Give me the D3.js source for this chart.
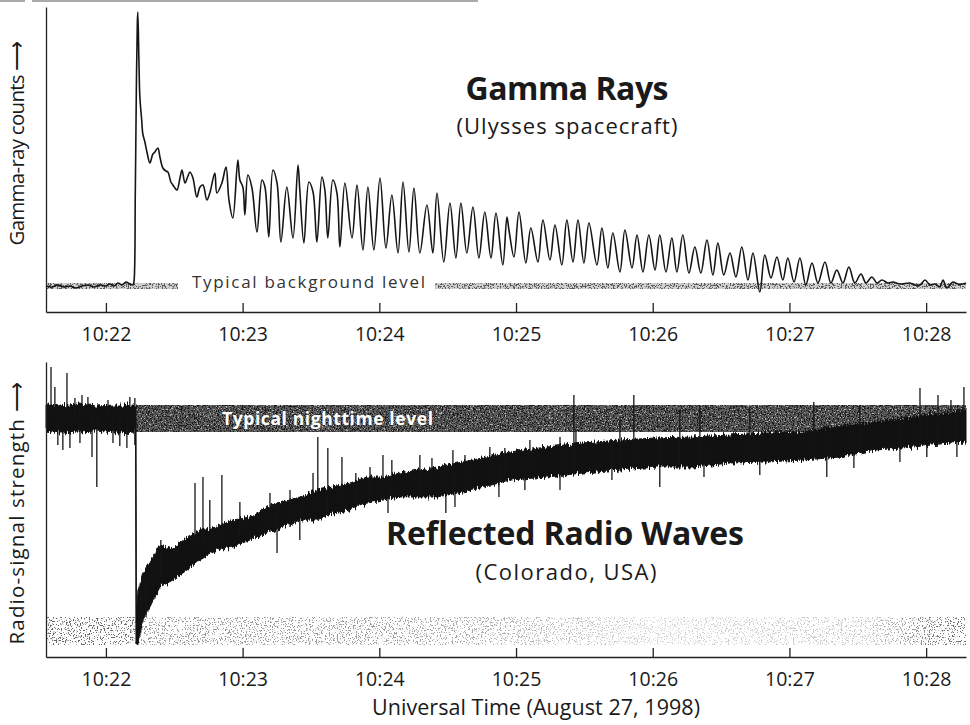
<!DOCTYPE html>
<html>
<head>
<meta charset="utf-8">
<script src="https://cdn.jsdelivr.net/npm/d3@7.9.0/dist/d3.min.js"></script>
<style>
  body { margin: 0; background: #fff; }
  svg { display: block; font-family: 'Open Sans', 'Noto Sans', sans-serif; }
  .axis path, .axis line { stroke: #222; stroke-width: 1.3; }
  .axis text { font-size: 19.5px; fill: #1a1a1a; font-family: 'Open Sans', sans-serif; }
</style>
</head>
<body>
<svg id="chart" width="970" height="725"></svg>
<script>
// time = seconds after 10:22:00 UT, values in arbitrary count units

// Ulysses gamma-ray counts [sec, counts]
const gammaRay = [
  [-26.3,26],[-23.7,25],[-21.1,27],[-18.4,25],[-15.8,26],[-13.2,24],[-10.5,26],[-7.9,27],[-5.3,25],[-2.6,27],
  [0,26],[1.8,28],[3.5,26],[5.3,29],[7.0,27],[8.8,30],[10.5,28],[11.9,27],[12.3,30],[12.9,120],
  [13.4,232],[13.8,290],[14.0,300],[14.5,250],[14.9,215],[15.7,192],[16.2,178],[17.1,170],[18.0,160],[19.3,149],
  [20.6,158],[21.5,160],[22.8,164],[23.7,155],[25.0,144],[26.3,141],[27.2,140],[28.5,130],[29.4,127],[30.3,124],
  [31.2,122],[32.5,134],[33.4,142],[34.7,129],[36.0,136],[36.9,140],[38.2,134],[39.9,115],[41.3,125],[42.6,127],
  [44.3,112],[45.6,119],[47.8,139],[48.7,119],[50.9,129],[52.7,145],[54.0,112],[55.7,94],[57.9,152],[58.8,132],
  [60.1,125],[61.0,97],[62.3,137],[64.1,124],[66.3,80],[68.5,132],[69.8,125],[71.5,75],[73.3,142],[75.1,129],
  [76.8,70],[79.4,125],[82.1,74],[84.3,147],[85.1,122],[86.9,69],[89.1,130],[90.9,120],[92.6,70],[94.8,135],
  [96.1,122],[97.4,74],[99.6,132],[101.4,119],[102.7,65],[104.9,129],[108.0,74],[110.2,127],[112.8,62],[115.0,125],
  [117.6,62],[120.3,134],[122.9,64],[125.5,117],[128.2,59],[130.4,130],[133.0,60],[135.2,124],[137.8,59],[140.9,107],
  [143.5,59],[145.3,119],[148.3,50],[151.0,109],[153.6,54],[155.8,109],[158.4,59],[161.1,105],[163.7,54],[166.3,100],
  [169.0,54],[171.2,99],[174.2,47],[176.0,95],[176.9,82],[179.1,55],[181.3,100],[184.3,49],[186.5,84],[189.6,50],
  [191.8,92],[194.9,52],[197.1,87],[200.1,47],[202.3,92],[205.0,50],[207.2,92],[209.8,49],[212.0,89],[215.5,47],
  [217.7,84],[220.3,44],[222.5,79],[225.6,40],[227.8,82],[230.9,44],[233.1,77],[235.7,40],[238.3,77],[241.0,42],
  [243.1,77],[245.8,40],[248.4,74],[250.6,40],[253.2,77],[255.9,39],[258.5,65],[261.1,39],[263.8,72],[266.4,37],
  [268.6,69],[271.2,37],[273.9,59],[276.5,35],[279.1,65],[281.8,32],[284.0,59],[287.0,20],[289.2,57],[291.9,34],
  [294.5,55],[297.1,32],[299.3,54],[302.0,30],[304.6,54],[307.2,27],[309.9,49],[312.5,29],[315.6,50],[318.2,29],
  [320.8,42],[323.5,29],[326.1,45],[328.7,29],[331.4,38],[333.6,29],[336.2,35],[338.4,29],[340.6,32],[343.2,29],
  [345.4,30],[348.5,28],[352.9,29],[355.1,27],[357.3,27],[359.5,32],[361.7,27],[363.9,28],[366.0,25],[367.4,32],
  [369.1,24],[371.7,30],[373.9,28],[376.1,28],[377.5,29]
];

// Colorado radio signal, dense band [sec, upper, lower]
const radioBand = [
  [-26.3,252,226],[-20,251,224],[-12,253,225],[-4,251,226],[4,252,224],[13.0,252,225],[13.2,252,12],[13.4,30,12],
  [13.6,50,12],[14.0,64,14],[16.2,84,37],[19.3,94,50],[23.7,112,70],[29.4,108,77],[35.6,120,87],[41.3,127,97],
  [48.7,130,107],[55.7,137,110],[63.2,140,117],[70.7,150,124],[77.7,155,130],[85.1,160,137],[92.6,167,137],
  [99.6,170,144],[107.1,174,147],[114.6,180,154],[121.6,180,157],[129.0,184,160],[145.3,190,160],[161.1,197,167],
  [177.3,205,177],[193.6,210,180],[209.4,214,184],[225.6,217,187],[241.4,219,190],[257.6,220,190],[273.9,222,194],
  [289.7,224,195],[305.9,225,197],[322.2,230,200],[337.9,235,207],[354.2,240,210],[370.0,244,214],[377.5,247,215]
];

// isolated radio spikes [sec, top, bottom]
const radioSpikes = [
  [-24.1,290,240],[-22.4,270,240],[-21.1,245,212],[-18.9,245,207],[-17.1,284,240],[-15.8,245,209],[-13.6,259,240],
  [-11.4,245,214],[-10.5,262,240],[-7.9,260,240],[-6.1,245,200],[-4.0,245,170],[0.9,257,240],[3.1,245,214],
  [6.1,245,211],[9.2,245,209],[10.5,260,240],[12.7,259,212],
  [15.4,72,30],[17.6,80,40],[21.0,103,60],[24.1,117,80],[39.1,174,110],[42.6,180,110],[45.6,157,110],[50.9,182,115],
  [58.8,155,120],[72.0,164,125],[75.1,145,104],[80.8,167,130],[85.1,150,117],[90.9,184,145],[93.0,220,145],
  [97.4,209,145],[103.6,200,150],[109.7,184,150],[115.9,190,155],[121.6,202,158],[123.8,175,144],[125.5,197,160],
  [137.8,202,160],[143.1,199,160],[149.2,185,144],[152.3,207,165],[153.2,185,150],[157.6,202,165],[168.5,210,170],
  [172.5,195,160],[175.1,209,175],[183.9,205,167],[186.1,217,180],[199.3,220,167],[205.4,262,185],[206.3,227,185],
  [222.1,212,177],[225.6,237,190],[231.7,262,190],[243.1,215,170],[251.9,247,192],[260.7,252,192],[262.5,215,180],
  [282.6,249,195],[287.0,220,182],[310.7,255,198],[316.4,225,180],[328.3,228,189],[330.9,252,205],[348.5,235,195],
  [357.3,269,210],[360.3,238,200],[365.2,262,212],[370.9,257,214],[373.5,242,200],[376.6,270,216]
];

const backgroundLevel = [23, 29];
const backgroundSpans = [[-26.3, 31.6], [144.8, 377.5]];
const nighttimeLevel = [225, 252];
const nighttimeSpan = [13.6, 377.5];
const noiseFloor = [12, 40];
const timeDomain = [-26.3, 377.5];
const tickLabels = ['10:22', '10:23', '10:24', '10:25', '10:26', '10:27', '10:28'];

const t0 = Date.UTC(1998, 7, 27, 10, 22, 0);
const toDate = (s) => new Date(t0 + s * 1000);
const tickDates = tickLabels.map((s) => {
  const [h, m] = s.split(':');
  return new Date(Date.UTC(1998, 7, 27, +h, +m));
});

const svg = d3.select('#chart');
const defs = svg.append('defs');

// speckled textures for the scanned grey bands
function speckle(id, base, dotColor, k, off, lightColor, lightOff) {
  const f = defs.append('filter').attr('id', id)
    .attr('x', 0).attr('y', 0).attr('width', 1).attr('height', 1)
    .attr('color-interpolation-filters', 'sRGB');
  f.append('feFlood').attr('flood-color', base).attr('result', 'base');
  f.append('feTurbulence').attr('type', 'fractalNoise').attr('baseFrequency', 0.75)
    .attr('numOctaves', 2).attr('seed', 3).attr('result', 'n');
  const c = d3.color(dotColor);
  f.append('feColorMatrix').attr('in', 'n').attr('type', 'matrix')
    .attr('values', `0 0 0 0 ${c.r / 255} 0 0 0 0 ${c.g / 255} 0 0 0 0 ${c.b / 255} ${k} 0 0 0 ${off}`)
    .attr('result', 'dots');
  const merge = ['base', 'dots'];
  if (lightColor) {
    const l = d3.color(lightColor);
    f.append('feColorMatrix').attr('in', 'n').attr('type', 'matrix')
      .attr('values', `0 0 0 0 ${l.r / 255} 0 0 0 0 ${l.g / 255} 0 0 0 0 ${l.b / 255} 0 ${k} 0 0 ${lightOff}`)
      .attr('result', 'light');
    merge.push('light');
  }
  const m = f.append('feMerge');
  merge.forEach((r) => m.append('feMergeNode').attr('in', r));
}
speckle('nightTex', '#5c5c5c', '#1c1c1c', 12, -6.0, '#b5b5b5', -7.6);
speckle('floorTex', '#ffffff', '#666', 12, -6.8, null);
speckle('bgTex', '#d0d0d0', '#5a5a5a', 12, -6.1, null);

// jagged edges for the dense radio trace
const rough = defs.append('filter').attr('id', 'rough')
  .attr('x', '-1%').attr('y', '-5%').attr('width', '102%').attr('height', '110%')
  .attr('color-interpolation-filters', 'sRGB');
rough.append('feTurbulence').attr('type', 'fractalNoise').attr('baseFrequency', '0.7 0.05')
  .attr('numOctaves', 2).attr('seed', 7).attr('result', 't');
rough.append('feColorMatrix').attr('in', 't').attr('type', 'matrix')
  .attr('values', '1 0 0 0 0 0 0 0 0 0.5 0 0 0 0 0 0 0 0 0 1').attr('result', 'd');
rough.append('feDisplacementMap').attr('in', 'SourceGraphic').attr('in2', 'd')
  .attr('scale', 10).attr('xChannelSelector', 'G').attr('yChannelSelector', 'R');

// density of the noise-floor speckle
const fade = defs.append('linearGradient').attr('id', 'floorFade')
  .attr('gradientUnits', 'userSpaceOnUse').attr('x1', 46).attr('x2', 966).attr('y1', 0).attr('y2', 0);
[[0, 0], [0.098, 0], [0.102, 0.3], [0.38, 0.35], [0.56, 0.55], [0.66, 0.72], [0.9, 0.62], [0.965, 0.1], [1, 0]]
  .forEach(([o, a]) => fade.append('stop').attr('offset', o).attr('stop-color', '#fff').attr('stop-opacity', a));

const x = d3.scaleUtc().domain(timeDomain.map(toDate)).range([46, 966]);
const yG = d3.scaleLinear().domain([0, 305]).range([312, 7]);
const yR = d3.scaleLinear().domain([0, 295]).range([657, 362]);

// top decorative rule from the page
svg.append('line').attr('x1', 0).attr('x2', 25).attr('y1', 1).attr('y2', 1).attr('stroke', '#aaa').attr('stroke-width', 2);
svg.append('line').attr('x1', 32).attr('x2', 478).attr('y1', 1).attr('y2', 1).attr('stroke', '#aaa').attr('stroke-width', 2);

// ---------- Gamma-ray panel ----------
svg.append('g').selectAll('rect')
  .data(backgroundSpans)
  .join('rect')
  .attr('x', (d) => x(toDate(d[0])))
  .attr('width', (d) => x(toDate(d[1])) - x(toDate(d[0])))
  .attr('y', yG(backgroundLevel[1]))
  .attr('height', yG(backgroundLevel[0]) - yG(backgroundLevel[1]))
  .attr('filter', 'url(#bgTex)');

svg.append('text')
  .attr('x', 192).attr('y', 288)
  .attr('font-size', 17).attr('fill', '#333')
  .attr('textLength', 233).attr('lengthAdjust', 'spacing')
  .text('Typical background level');

const gammaLine = d3.line()
  .x((d) => x(toDate(d[0])))
  .y((d) => yG(d[1]))
  .curve(d3.curveCatmullRom.alpha(0.5));

svg.append('path')
  .datum(gammaRay)
  .attr('d', gammaLine)
  .attr('fill', 'none')
  .attr('stroke', '#151515')
  .attr('stroke-width', 1.6)
  .attr('stroke-linejoin', 'round');

svg.append('g').attr('class', 'axis')
  .attr('transform', 'translate(0,312)')
  .call(d3.axisBottom(x).tickValues(tickDates).tickFormat(d3.utcFormat('%H:%M'))
    .tickSizeInner(-9).tickSizeOuter(0).tickPadding(15));
svg.append('g').attr('class', 'axis')
  .attr('transform', 'translate(46,0)')
  .call(d3.axisLeft(yG).tickValues([]).tickSizeOuter(0));

svg.append('text')
  .attr('transform', 'translate(24,143) rotate(-90)')
  .attr('text-anchor', 'middle').attr('font-size', 20.5).attr('fill', '#1a1a1a')
  .attr('textLength', 205).attr('lengthAdjust', 'spacing')
  .text('Gamma-ray counts \u27F6');

svg.append('text')
  .attr('x', 567).attr('y', 100).attr('text-anchor', 'middle')
  .attr('font-size', 32).attr('font-weight', 700).attr('fill', '#1a1a1a')
  .attr('textLength', 203).attr('lengthAdjust', 'spacing')
  .text('Gamma Rays');
svg.append('text')
  .attr('x', 567).attr('y', 134).attr('text-anchor', 'middle')
  .attr('font-size', 22).attr('fill', '#1a1a1a')
  .attr('textLength', 221).attr('lengthAdjust', 'spacing')
  .text('(Ulysses spacecraft)');

// ---------- Radio panel ----------
svg.append('rect')
  .attr('x', x(toDate(nighttimeSpan[0])))
  .attr('width', x(toDate(nighttimeSpan[1])) - x(toDate(nighttimeSpan[0])))
  .attr('y', yR(nighttimeLevel[1]))
  .attr('height', yR(nighttimeLevel[0]) - yR(nighttimeLevel[1]))
  .attr('filter', 'url(#nightTex)');

svg.append('rect')
  .attr('x', x.range()[0])
  .attr('width', x.range()[1] - x.range()[0])
  .attr('y', yR(noiseFloor[1]))
  .attr('height', yR(noiseFloor[0]) - yR(noiseFloor[1]))
  .attr('filter', 'url(#floorTex)');
svg.append('rect')
  .attr('x', x.range()[0])
  .attr('width', x.range()[1] - x.range()[0])
  .attr('y', yR(noiseFloor[1]))
  .attr('height', yR(noiseFloor[0]) - yR(noiseFloor[1]))
  .attr('fill', 'url(#floorFade)');

const radioArea = d3.area()
  .x((d) => x(toDate(d[0])))
  .y0((d) => yR(d[2]))
  .y1((d) => yR(d[1]));

const radioG = svg.append('g').attr('filter', 'url(#rough)');
radioG.append('path')
  .datum(radioBand)
  .attr('d', radioArea)
  .attr('fill', '#111')
  .attr('stroke', '#111')
  .attr('stroke-width', 1);

svg.append('g').selectAll('line')
  .data(radioSpikes)
  .join('line')
  .attr('x1', (d) => x(toDate(d[0])))
  .attr('x2', (d) => x(toDate(d[0])))
  .attr('y1', (d) => yR(d[1]))
  .attr('y2', (d) => yR(d[2]))
  .attr('stroke', '#151515')
  .attr('stroke-width', 1.3);

svg.append('text')
  .attr('x', 222).attr('y', 425)
  .attr('font-size', 17.5).attr('font-weight', 700).attr('fill', '#fff')
  .attr('textLength', 211).attr('lengthAdjust', 'spacing')
  .text('Typical nighttime level');

svg.append('g').attr('class', 'axis')
  .attr('transform', 'translate(0,657)')
  .call(d3.axisBottom(x).tickValues(tickDates).tickFormat(d3.utcFormat('%H:%M'))
    .tickSizeInner(-9).tickSizeOuter(0).tickPadding(15));
svg.append('g').attr('class', 'axis')
  .attr('transform', 'translate(46,0)')
  .call(d3.axisLeft(yR).tickValues([]).tickSizeOuter(0));

svg.append('text')
  .attr('transform', 'translate(24,513) rotate(-90)')
  .attr('text-anchor', 'middle').attr('font-size', 20.5).attr('fill', '#1a1a1a')
  .attr('textLength', 263).attr('lengthAdjust', 'spacing')
  .text('Radio-signal strength \u27F6');

svg.append('text')
  .attr('x', 565).attr('y', 545).attr('text-anchor', 'middle')
  .attr('font-size', 32).attr('font-weight', 700).attr('fill', '#1a1a1a')
  .attr('textLength', 358).attr('lengthAdjust', 'spacing')
  .text('Reflected Radio Waves');
svg.append('text')
  .attr('x', 566).attr('y', 580).attr('text-anchor', 'middle')
  .attr('font-size', 22).attr('fill', '#1a1a1a')
  .attr('textLength', 181).attr('lengthAdjust', 'spacing')
  .text('(Colorado, USA)');

svg.append('text')
  .attr('x', 536).attr('y', 715).attr('text-anchor', 'middle')
  .attr('font-size', 21.5).attr('fill', '#1a1a1a')
  .attr('textLength', 328).attr('lengthAdjust', 'spacing')
  .text('Universal Time (August 27, 1998)');
</script>
</body>
</html>
